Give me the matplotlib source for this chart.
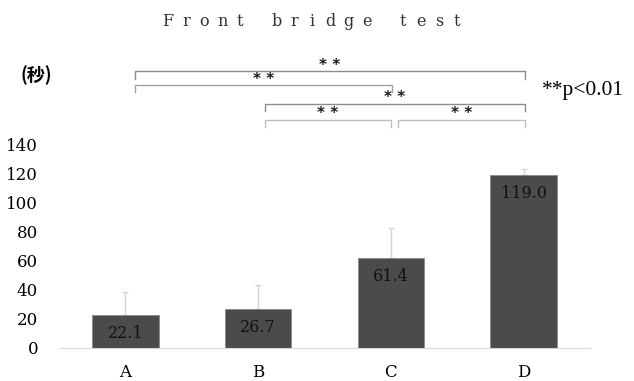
import numpy as np
from matplotlib import pyplot as plt

# Front bridge test: mean hold time (seconds) with SD, four groups
grupos = ['A', 'B', 'C', 'D']
medias = [22.1, 26.7, 61.4, 119.0]
desviaciones = [16.2, 16.5, 21.3, 4.0]
yticks = [0, 20, 40, 60, 80, 100, 120, 140]

# significance brackets: (start, end, height)
comparaciones = [
    (0.07, 3.01, 190.5),
    (0.07, 2.01, 181.0),
    (1.05, 3.01, 168.0),
    (1.05, 2.00, 157.0),
    (2.05, 3.01, 157.0),
]
colores_corchete = ['#8c8c8c', '#a0a0a0', '#8c8c8c', '#c0c0c0', '#c0c0c0']

titulo = 'Front bridge test'
serif = 'DejaVu Serif'

fig = plt.figure(figsize=(6.34, 3.81), dpi=100)
ax = fig.add_axes([59 / 634, 33.5 / 381, 531 / 634, 317.5 / 381])

x = np.arange(len(grupos))
ax.bar(x, medias, width=0.5, color='#4b4b4b', edgecolor='#8a8a8a', linewidth=0.6, zorder=2)
ax.errorbar(x, medias, yerr=[np.zeros(len(medias)), desviaciones], fmt='none',
            ecolor='#d4d4d4', elinewidth=1.0, capsize=2.5, capthick=1.0, zorder=1)

for xi, m in zip(x, medias):
    ax.annotate(f'{m:.1f}', (xi, m), xytext=(0, -7), textcoords='offset points',
                ha='center', va='top', fontsize=11.5, family=serif, color='#111111', zorder=3)

ax.set_xlim(-0.5, 3.5)
ax.set_ylim(0, 219)
ax.set_yticks(yticks)
ax.set_yticklabels([str(v) for v in yticks], family=serif, fontsize=12)
ax.set_xticks(x)
ax.set_xticklabels(grupos, family=serif, fontsize=12)
ax.tick_params(axis='both', length=0)
ax.tick_params(axis='y', pad=15)
ax.tick_params(axis='x', pad=12)
for lado in ['top', 'right', 'left']:
    ax.spines[lado].set_visible(False)
ax.spines['bottom'].set_color('#d9d9d9')
ax.spines['bottom'].set_bounds(-0.5, 3.5)

# brackets with ** over each pair
for (x0, x1, h), c in zip(comparaciones, colores_corchete):
    ax.plot([x0, x0, x1, x1], [h - 5, h, h, h - 5], color=c, lw=1.0, clip_on=False)
    ax.text((x0 + x1) / 2, h + 4.2, '* *', ha='center', va='center', fontsize=11,
            fontweight='bold', family='DejaVu Sans', color='#1a1a1a')

# spaced-out title, one letter at a time
paso = 18.06 / 634
pos = 168 / 634
for letra in titulo:
    if letra == ' ':
        pos += paso
        continue
    fig.text(pos, 1 - 22 / 381, letra, ha='center', va='center', fontsize=11.5,
             family=serif, color='#333333')
    pos += paso

fig.text(21 / 634, 1 - 75 / 381, '(秒)', ha='left', va='center', fontsize=13, fontweight='bold',
         family=['Noto Sans CJK JP', 'DejaVu Sans'])
fig.text(542 / 634, 1 - 91 / 381, '**p<0.01', ha='left', va='center', fontsize=15.5,
         family='Liberation Serif')

fig.savefig('out.png', dpi=100)
